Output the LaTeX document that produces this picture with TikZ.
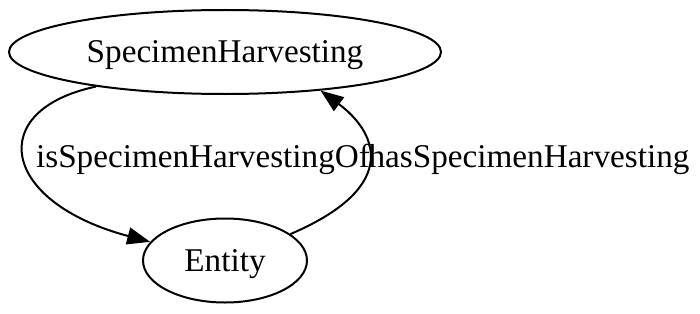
\documentclass[tikz,border=0pt]{standalone}
\usepackage{fontspec}
\setmainfont{Liberation Serif}
\usetikzlibrary{shapes.geometric,arrows.meta}

\begin{document}
\begin{tikzpicture}[x=1pt,y=-1pt,line width=2pt,
  font=\fontsize{33.2}{40}\selectfont,
  cls/.style={draw,ellipse,inner sep=0pt,minimum height=84pt,text height=22pt,text depth=0pt},
  rel/.style={-{Triangle[length=23pt,width=17pt]}}]
\useasboundingbox (0,0) rectangle (700,313);
\node[cls,minimum width=432pt] (SH) at (225,52) {SpecimenHarvesting};
\node[cls,minimum width=164pt] (E) at (225,260.5) {Entity};
\draw[rel] (SH.195) .. controls (-15,110) and (0,202) .. (E.166);
\draw[rel] (E.22) .. controls (405,185) and (374,130) .. (SH.-22);
\node[anchor=base] (isOf) at (203,167) {isSpecimenHarvestingOf};
\node[anchor=base] (has) at (529,167) {hasSpecimenHarvesting};
\end{tikzpicture}
\end{document}
